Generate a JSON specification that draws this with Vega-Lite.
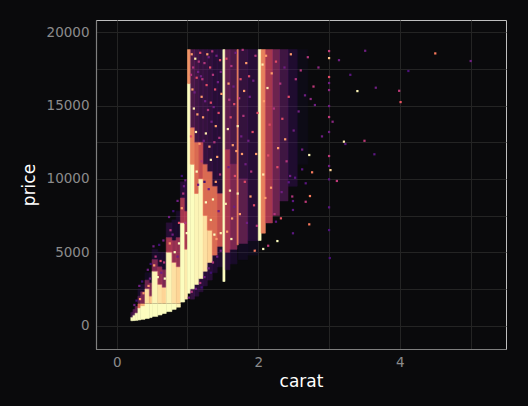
{
  "$schema": "https://vega.github.io/schema/vega-lite/v6.json",
  "width": 410,
  "height": 329,
  "autosize": "none",
  "padding": {"left": 96, "top": 20, "right": 22, "bottom": 57},
  "background": "#0a0a0c",
  "config": {
    "view": {"stroke": "#bfbfbf", "strokeWidth": 1},
    "axis": {
      "grid": true,
      "gridColor": "#242424",
      "gridWidth": 1,
      "ticks": false,
      "domainColor": "#7f7f7f",
      "domainWidth": 1.2,
      "labelColor": "#8c8c8c",
      "labelFont": "DejaVu Sans",
      "labelFontSize": 13.5,
      "titleColor": "#ffffff",
      "titleFont": "DejaVu Sans",
      "titleFontSize": 17,
      "titleFontWeight": "normal"
    }
  },
  "datasets": {
    "cells": [
      {"c0": 0.20, "c1": 0.23, "p0": 326, "p1": 560, "n": 100},
      {"c0": 0.20, "c1": 0.23, "p0": 560, "p1": 900, "n": 2},
      {"c0": 0.23, "c1": 0.26, "p0": 335, "p1": 700, "n": 100},
      {"c0": 0.23, "c1": 0.26, "p0": 700, "p1": 1100, "n": 3},
      {"c0": 0.26, "c1": 0.30, "p0": 350, "p1": 850, "n": 100},
      {"c0": 0.26, "c1": 0.30, "p0": 850, "p1": 1300, "n": 4},
      {"c0": 0.30, "c1": 0.34, "p0": 380, "p1": 1200, "n": 100},
      {"c0": 0.30, "c1": 0.34, "p0": 1200, "p1": 1480, "n": 20},
      {"c0": 0.30, "c1": 0.34, "p0": 1520, "p1": 2000, "n": 4},
      {"c0": 0.30, "c1": 0.34, "p0": 2000, "p1": 2500, "n": 1},
      {"c0": 0.34, "c1": 0.40, "p0": 420, "p1": 1350, "n": 100},
      {"c0": 0.34, "c1": 0.40, "p0": 1350, "p1": 1480, "n": 40},
      {"c0": 0.34, "c1": 0.40, "p0": 1520, "p1": 2300, "n": 6},
      {"c0": 0.34, "c1": 0.40, "p0": 2300, "p1": 2800, "n": 1},
      {"c0": 0.40, "c1": 0.46, "p0": 480, "p1": 1480, "n": 100},
      {"c0": 0.40, "c1": 0.46, "p0": 1520, "p1": 2500, "n": 70},
      {"c0": 0.40, "c1": 0.46, "p0": 2500, "p1": 3100, "n": 5},
      {"c0": 0.40, "c1": 0.46, "p0": 3100, "p1": 3600, "n": 0.8},
      {"c0": 0.46, "c1": 0.50, "p0": 540, "p1": 1480, "n": 100},
      {"c0": 0.46, "c1": 0.50, "p0": 1520, "p1": 2000, "n": 50},
      {"c0": 0.46, "c1": 0.50, "p0": 2000, "p1": 2900, "n": 6},
      {"c0": 0.46, "c1": 0.50, "p0": 2900, "p1": 3600, "n": 1},
      {"c0": 0.50, "c1": 0.58, "p0": 620, "p1": 1480, "n": 100},
      {"c0": 0.50, "c1": 0.58, "p0": 1520, "p1": 3700, "n": 90},
      {"c0": 0.50, "c1": 0.58, "p0": 3700, "p1": 4500, "n": 6},
      {"c0": 0.50, "c1": 0.58, "p0": 4500, "p1": 5200, "n": 1},
      {"c0": 0.58, "c1": 0.64, "p0": 720, "p1": 1480, "n": 100},
      {"c0": 0.58, "c1": 0.64, "p0": 1520, "p1": 2800, "n": 70},
      {"c0": 0.58, "c1": 0.64, "p0": 2800, "p1": 4000, "n": 8},
      {"c0": 0.58, "c1": 0.64, "p0": 4000, "p1": 5000, "n": 1},
      {"c0": 0.64, "c1": 0.70, "p0": 820, "p1": 1480, "n": 100},
      {"c0": 0.64, "c1": 0.70, "p0": 1520, "p1": 2600, "n": 60},
      {"c0": 0.64, "c1": 0.70, "p0": 2600, "p1": 3800, "n": 6},
      {"c0": 0.64, "c1": 0.70, "p0": 3800, "p1": 5000, "n": 1},
      {"c0": 0.70, "c1": 0.78, "p0": 950, "p1": 1480, "n": 100},
      {"c0": 0.70, "c1": 0.78, "p0": 1520, "p1": 5000, "n": 90},
      {"c0": 0.70, "c1": 0.78, "p0": 5000, "p1": 6000, "n": 10},
      {"c0": 0.70, "c1": 0.78, "p0": 6000, "p1": 7000, "n": 1.5},
      {"c0": 0.78, "c1": 0.84, "p0": 1100, "p1": 1480, "n": 100},
      {"c0": 0.78, "c1": 0.84, "p0": 1520, "p1": 4300, "n": 70},
      {"c0": 0.78, "c1": 0.84, "p0": 4300, "p1": 5800, "n": 8},
      {"c0": 0.78, "c1": 0.84, "p0": 5800, "p1": 7200, "n": 1},
      {"c0": 0.84, "c1": 0.90, "p0": 1250, "p1": 1480, "n": 90},
      {"c0": 0.84, "c1": 0.90, "p0": 1520, "p1": 4000, "n": 60},
      {"c0": 0.84, "c1": 0.90, "p0": 4000, "p1": 6000, "n": 8},
      {"c0": 0.84, "c1": 0.90, "p0": 6000, "p1": 7800, "n": 1},
      {"c0": 0.90, "c1": 0.96, "p0": 1600, "p1": 7000, "n": 100},
      {"c0": 0.90, "c1": 0.96, "p0": 7000, "p1": 8700, "n": 10},
      {"c0": 0.90, "c1": 0.96, "p0": 8700, "p1": 9800, "n": 1.5},
      {"c0": 0.96, "c1": 1.00, "p0": 1800, "p1": 5200, "n": 80},
      {"c0": 0.96, "c1": 1.00, "p0": 5200, "p1": 7800, "n": 10},
      {"c0": 0.96, "c1": 1.00, "p0": 7800, "p1": 9800, "n": 1.5},
      {"c0": 1.00, "c1": 1.04, "p0": 2200, "p1": 16500, "n": 100},
      {"c0": 1.00, "c1": 1.04, "p0": 16500, "p1": 18820, "n": 30},
      {"c0": 1.04, "c1": 1.10, "p0": 1800, "p1": 2500, "n": 2},
      {"c0": 1.04, "c1": 1.10, "p0": 2500, "p1": 11000, "n": 100},
      {"c0": 1.04, "c1": 1.10, "p0": 11000, "p1": 13500, "n": 25},
      {"c0": 1.04, "c1": 1.10, "p0": 13500, "p1": 18820, "n": 3},
      {"c0": 1.10, "c1": 1.16, "p0": 2000, "p1": 2800, "n": 1.5},
      {"c0": 1.10, "c1": 1.16, "p0": 2800, "p1": 9000, "n": 90},
      {"c0": 1.10, "c1": 1.16, "p0": 9000, "p1": 12500, "n": 20},
      {"c0": 1.10, "c1": 1.16, "p0": 12500, "p1": 18820, "n": 2.5},
      {"c0": 1.16, "c1": 1.22, "p0": 2300, "p1": 3200, "n": 1.5},
      {"c0": 1.16, "c1": 1.22, "p0": 3200, "p1": 10000, "n": 90},
      {"c0": 1.16, "c1": 1.22, "p0": 10000, "p1": 12500, "n": 14},
      {"c0": 1.16, "c1": 1.22, "p0": 12500, "p1": 18820, "n": 2},
      {"c0": 1.22, "c1": 1.28, "p0": 2700, "p1": 3700, "n": 1.5},
      {"c0": 1.22, "c1": 1.28, "p0": 3700, "p1": 7500, "n": 70},
      {"c0": 1.22, "c1": 1.28, "p0": 7500, "p1": 11000, "n": 20},
      {"c0": 1.22, "c1": 1.28, "p0": 11000, "p1": 18820, "n": 2},
      {"c0": 1.28, "c1": 1.35, "p0": 3100, "p1": 4300, "n": 1.5},
      {"c0": 1.28, "c1": 1.35, "p0": 4300, "p1": 6500, "n": 60},
      {"c0": 1.28, "c1": 1.35, "p0": 6500, "p1": 10500, "n": 20},
      {"c0": 1.28, "c1": 1.35, "p0": 10500, "p1": 18820, "n": 1.8},
      {"c0": 1.35, "c1": 1.42, "p0": 3600, "p1": 4800, "n": 1.2},
      {"c0": 1.35, "c1": 1.42, "p0": 4800, "p1": 9500, "n": 20},
      {"c0": 1.35, "c1": 1.42, "p0": 9500, "p1": 18820, "n": 1.5},
      {"c0": 1.42, "c1": 1.50, "p0": 4000, "p1": 5400, "n": 1.2},
      {"c0": 1.42, "c1": 1.50, "p0": 5400, "p1": 9000, "n": 15},
      {"c0": 1.42, "c1": 1.50, "p0": 9000, "p1": 18820, "n": 1.5},
      {"c0": 1.50, "c1": 1.53, "p0": 3000, "p1": 18820, "n": 100},
      {"c0": 1.53, "c1": 1.60, "p0": 3800, "p1": 5000, "n": 1.5},
      {"c0": 1.53, "c1": 1.60, "p0": 5000, "p1": 12000, "n": 10},
      {"c0": 1.53, "c1": 1.60, "p0": 12000, "p1": 18820, "n": 4},
      {"c0": 1.60, "c1": 1.70, "p0": 4200, "p1": 5200, "n": 1},
      {"c0": 1.60, "c1": 1.70, "p0": 5200, "p1": 11000, "n": 6},
      {"c0": 1.60, "c1": 1.70, "p0": 11000, "p1": 18820, "n": 3},
      {"c0": 1.70, "c1": 1.72, "p0": 5500, "p1": 18820, "n": 25},
      {"c0": 1.72, "c1": 1.85, "p0": 4500, "p1": 5600, "n": 0.8},
      {"c0": 1.72, "c1": 1.85, "p0": 5600, "p1": 10000, "n": 4},
      {"c0": 1.72, "c1": 1.85, "p0": 10000, "p1": 18820, "n": 2},
      {"c0": 1.85, "c1": 2.00, "p0": 4800, "p1": 5800, "n": 0.7},
      {"c0": 1.85, "c1": 2.00, "p0": 5800, "p1": 18820, "n": 1.5},
      {"c0": 2.00, "c1": 2.04, "p0": 5800, "p1": 18820, "n": 100},
      {"c0": 2.04, "c1": 2.10, "p0": 6300, "p1": 18820, "n": 25},
      {"c0": 2.10, "c1": 2.20, "p0": 7000, "p1": 18820, "n": 10},
      {"c0": 2.20, "c1": 2.30, "p0": 7500, "p1": 18820, "n": 5},
      {"c0": 2.30, "c1": 2.42, "p0": 8500, "p1": 18820, "n": 2.5},
      {"c0": 2.42, "c1": 2.55, "p0": 9500, "p1": 18820, "n": 1.2},
      {"c0": 2.55, "c1": 2.70, "p0": 11000, "p1": 18820, "n": 0.6}
    ],
    "dots": [
      {"c": 3.51, "p": 18740, "n": 2},
      {"c": 4.50, "p": 18560, "n": 20},
      {"c": 5.00, "p": 18040, "n": 2},
      {"c": 4.12, "p": 17360, "n": 1.2},
      {"c": 3.66, "p": 16220, "n": 2},
      {"c": 3.40, "p": 15990, "n": 90},
      {"c": 3.99, "p": 16010, "n": 6},
      {"c": 4.01, "p": 15240, "n": 12},
      {"c": 3.50, "p": 12600, "n": 6},
      {"c": 3.21, "p": 12540, "n": 80},
      {"c": 3.23, "p": 12380, "n": 1.5},
      {"c": 3.64, "p": 11680, "n": 1.5},
      {"c": 3.11, "p": 9860, "n": 6},
      {"c": 2.80, "p": 15040, "n": 2},
      {"c": 2.74, "p": 15450, "n": 3},
      {"c": 3.00, "p": 18720, "n": 6},
      {"c": 3.00, "p": 18240, "n": 50},
      {"c": 3.00, "p": 16950, "n": 10},
      {"c": 3.00, "p": 16540, "n": 2},
      {"c": 3.00, "p": 16060, "n": 3},
      {"c": 3.00, "p": 14970, "n": 2},
      {"c": 3.00, "p": 14220, "n": 6},
      {"c": 3.00, "p": 13200, "n": 2},
      {"c": 3.00, "p": 11560, "n": 6},
      {"c": 3.00, "p": 10880, "n": 2},
      {"c": 3.02, "p": 10600, "n": 60},
      {"c": 3.00, "p": 9970, "n": 1.5},
      {"c": 3.00, "p": 8060, "n": 1.5},
      {"c": 3.00, "p": 6510, "n": 1.2},
      {"c": 3.01, "p": 4600, "n": 1.2},
      {"c": 2.72, "p": 11630, "n": 90},
      {"c": 2.76, "p": 10450, "n": 20},
      {"c": 2.62, "p": 10650, "n": 1.5},
      {"c": 2.52, "p": 10080, "n": 1.5},
      {"c": 2.43, "p": 9770, "n": 1.5},
      {"c": 2.67, "p": 9700, "n": 1.5},
      {"c": 2.73, "p": 8830, "n": 20},
      {"c": 2.49, "p": 8490, "n": 1.5},
      {"c": 2.67, "p": 8440, "n": 6},
      {"c": 2.49, "p": 7880, "n": 1.5},
      {"c": 2.32, "p": 7310, "n": 12},
      {"c": 2.25, "p": 7080, "n": 1.5},
      {"c": 2.72, "p": 6900, "n": 20},
      {"c": 2.49, "p": 6290, "n": 1.5},
      {"c": 2.27, "p": 5760, "n": 100},
      {"c": 2.14, "p": 5440, "n": 6},
      {"c": 2.07, "p": 5220, "n": 100},
      {"c": 1.95, "p": 5100, "n": 20},
      {"c": 3.14, "p": 18100, "n": 2},
      {"c": 3.30, "p": 17100, "n": 1.5},
      {"c": 3.05, "p": 13900, "n": 3},
      {"c": 2.90, "p": 12900, "n": 2},
      {"c": 2.85, "p": 17600, "n": 3},
      {"c": 2.78, "p": 16300, "n": 6},
      {"c": 1.06, "p": 18500, "n": 30},
      {"c": 1.08, "p": 17600, "n": 5},
      {"c": 1.11, "p": 18200, "n": 80},
      {"c": 1.13, "p": 16900, "n": 10},
      {"c": 1.07, "p": 16100, "n": 30},
      {"c": 1.15, "p": 17300, "n": 2},
      {"c": 1.18, "p": 18600, "n": 10},
      {"c": 1.20, "p": 15600, "n": 30},
      {"c": 1.09, "p": 14800, "n": 80},
      {"c": 1.24, "p": 17900, "n": 5},
      {"c": 1.27, "p": 16400, "n": 10},
      {"c": 1.22, "p": 14200, "n": 30},
      {"c": 1.30, "p": 18300, "n": 2},
      {"c": 1.33, "p": 15200, "n": 10},
      {"c": 1.36, "p": 17100, "n": 5},
      {"c": 1.40, "p": 13600, "n": 30},
      {"c": 1.43, "p": 16600, "n": 2},
      {"c": 1.46, "p": 18100, "n": 10},
      {"c": 1.38, "p": 12500, "n": 5},
      {"c": 1.12, "p": 13200, "n": 80},
      {"c": 1.17, "p": 12400, "n": 30},
      {"c": 1.05, "p": 12900, "n": 10},
      {"c": 1.26, "p": 13100, "n": 80},
      {"c": 1.31, "p": 12200, "n": 30},
      {"c": 1.44, "p": 14500, "n": 10},
      {"c": 1.48, "p": 15800, "n": 30},
      {"c": 1.35, "p": 18700, "n": 5},
      {"c": 1.19, "p": 17000, "n": 2},
      {"c": 1.05, "p": 17100, "n": 5},
      {"c": 1.10, "p": 15900, "n": 2},
      {"c": 1.14, "p": 14400, "n": 30},
      {"c": 1.21, "p": 16800, "n": 5},
      {"c": 1.25, "p": 15300, "n": 2},
      {"c": 1.28, "p": 18500, "n": 30},
      {"c": 1.32, "p": 17600, "n": 10},
      {"c": 1.34, "p": 13900, "n": 2},
      {"c": 1.39, "p": 16100, "n": 10},
      {"c": 1.41, "p": 18400, "n": 2},
      {"c": 1.45, "p": 12800, "n": 5},
      {"c": 1.47, "p": 17300, "n": 2},
      {"c": 1.16, "p": 18000, "n": 5},
      {"c": 1.23, "p": 12600, "n": 2},
      {"c": 1.29, "p": 14700, "n": 5},
      {"c": 1.37, "p": 14900, "n": 2},
      {"c": 1.42, "p": 11500, "n": 30},
      {"c": 1.46, "p": 10300, "n": 5},
      {"c": 1.33, "p": 11300, "n": 80},
      {"c": 1.40, "p": 9800, "n": 30},
      {"c": 1.13, "p": 10500, "n": 100},
      {"c": 1.20, "p": 11200, "n": 5},
      {"c": 1.26, "p": 8400, "n": 100},
      {"c": 1.30, "p": 9300, "n": 2},
      {"c": 1.33, "p": 7200, "n": 80},
      {"c": 1.38, "p": 6200, "n": 100},
      {"c": 1.44, "p": 7800, "n": 2},
      {"c": 1.47, "p": 6300, "n": 80},
      {"c": 1.24, "p": 9800, "n": 1},
      {"c": 1.15, "p": 9600, "n": 2},
      {"c": 1.36, "p": 8600, "n": 100},
      {"c": 1.41, "p": 5900, "n": 30},
      {"c": 1.55, "p": 18200, "n": 10},
      {"c": 1.58, "p": 16500, "n": 30},
      {"c": 1.62, "p": 17700, "n": 5},
      {"c": 1.66, "p": 15100, "n": 10},
      {"c": 1.57, "p": 13400, "n": 80},
      {"c": 1.64, "p": 12300, "n": 30},
      {"c": 1.68, "p": 18600, "n": 2},
      {"c": 1.75, "p": 16800, "n": 10},
      {"c": 1.79, "p": 14300, "n": 5},
      {"c": 1.83, "p": 17900, "n": 30},
      {"c": 1.88, "p": 15600, "n": 2},
      {"c": 1.92, "p": 13200, "n": 10},
      {"c": 1.96, "p": 18400, "n": 5},
      {"c": 1.77, "p": 11700, "n": 30},
      {"c": 1.81, "p": 9800, "n": 10},
      {"c": 1.86, "p": 12600, "n": 2},
      {"c": 1.90, "p": 10500, "n": 5},
      {"c": 1.94, "p": 8200, "n": 10},
      {"c": 1.74, "p": 7600, "n": 30},
      {"c": 1.60, "p": 9200, "n": 80},
      {"c": 1.63, "p": 7300, "n": 30},
      {"c": 1.67, "p": 10200, "n": 10},
      {"c": 1.56, "p": 6400, "n": 30},
      {"c": 1.98, "p": 6800, "n": 5},
      {"c": 1.84, "p": 7000, "n": 2},
      {"c": 1.71, "p": 13600, "n": 80},
      {"c": 1.71, "p": 9000, "n": 80},
      {"c": 1.54, "p": 8300, "n": 80},
      {"c": 1.58, "p": 10800, "n": 2},
      {"c": 1.61, "p": 14200, "n": 10},
      {"c": 1.65, "p": 16300, "n": 2},
      {"c": 1.69, "p": 11900, "n": 30},
      {"c": 1.73, "p": 15500, "n": 5},
      {"c": 1.76, "p": 12900, "n": 2},
      {"c": 1.80, "p": 16000, "n": 30},
      {"c": 1.82, "p": 11000, "n": 2},
      {"c": 1.87, "p": 17000, "n": 10},
      {"c": 1.89, "p": 8800, "n": 30},
      {"c": 1.93, "p": 16700, "n": 2},
      {"c": 1.97, "p": 11700, "n": 30},
      {"c": 1.99, "p": 14500, "n": 10},
      {"c": 1.78, "p": 18800, "n": 5},
      {"c": 1.62, "p": 5900, "n": 80},
      {"c": 1.66, "p": 8100, "n": 2},
      {"c": 1.59, "p": 15400, "n": 5},
      {"c": 2.06, "p": 17800, "n": 80},
      {"c": 2.08, "p": 15300, "n": 30},
      {"c": 2.11, "p": 18400, "n": 30},
      {"c": 2.13, "p": 16200, "n": 80},
      {"c": 2.16, "p": 13700, "n": 10},
      {"c": 2.19, "p": 17200, "n": 30},
      {"c": 2.22, "p": 14800, "n": 5},
      {"c": 2.25, "p": 18000, "n": 10},
      {"c": 2.28, "p": 12100, "n": 30},
      {"c": 2.31, "p": 16500, "n": 5},
      {"c": 2.34, "p": 14100, "n": 10},
      {"c": 2.37, "p": 17600, "n": 2},
      {"c": 2.40, "p": 11200, "n": 5},
      {"c": 2.43, "p": 15600, "n": 10},
      {"c": 2.46, "p": 18500, "n": 30},
      {"c": 2.50, "p": 13300, "n": 2},
      {"c": 2.53, "p": 16800, "n": 5},
      {"c": 2.57, "p": 14600, "n": 2},
      {"c": 2.60, "p": 17400, "n": 5},
      {"c": 2.07, "p": 10300, "n": 80},
      {"c": 2.10, "p": 8700, "n": 30},
      {"c": 2.14, "p": 11600, "n": 10},
      {"c": 2.18, "p": 9400, "n": 30},
      {"c": 2.23, "p": 7600, "n": 5},
      {"c": 2.27, "p": 10800, "n": 10},
      {"c": 2.33, "p": 9100, "n": 2},
      {"c": 2.38, "p": 12700, "n": 30},
      {"c": 2.45, "p": 10200, "n": 2},
      {"c": 2.48, "p": 8800, "n": 5},
      {"c": 2.62, "p": 12000, "n": 2},
      {"c": 2.66, "p": 15700, "n": 2},
      {"c": 2.70, "p": 18300, "n": 5},
      {"c": 1.02, "p": 1900, "n": 2},
      {"c": 1.06, "p": 2300, "n": 5},
      {"c": 1.12, "p": 2500, "n": 2},
      {"c": 1.18, "p": 2900, "n": 5},
      {"c": 1.24, "p": 3300, "n": 2},
      {"c": 1.30, "p": 3900, "n": 2},
      {"c": 1.36, "p": 4300, "n": 5},
      {"c": 1.42, "p": 4700, "n": 2},
      {"c": 1.47, "p": 5100, "n": 2},
      {"c": 1.20, "p": 2600, "n": 1},
      {"c": 1.33, "p": 3600, "n": 1},
      {"c": 0.32, "p": 2700, "n": 2},
      {"c": 0.36, "p": 3000, "n": 1},
      {"c": 0.44, "p": 3800, "n": 2},
      {"c": 0.48, "p": 4200, "n": 1},
      {"c": 0.52, "p": 5400, "n": 2},
      {"c": 0.60, "p": 5500, "n": 1},
      {"c": 0.66, "p": 5800, "n": 2},
      {"c": 0.74, "p": 7400, "n": 2},
      {"c": 0.80, "p": 7800, "n": 1},
      {"c": 0.86, "p": 8500, "n": 2},
      {"c": 0.92, "p": 10200, "n": 1},
      {"c": 0.97, "p": 9900, "n": 2},
      {"c": 0.55, "p": 4700, "n": 5},
      {"c": 0.62, "p": 4400, "n": 10},
      {"c": 0.76, "p": 6500, "n": 5},
      {"c": 0.88, "p": 7000, "n": 10},
      {"c": 0.94, "p": 9000, "n": 5},
      {"c": 0.58, "p": 3300, "n": 100},
      {"c": 0.63, "p": 3600, "n": 2},
      {"c": 0.68, "p": 3200, "n": 100},
      {"c": 0.67, "p": 4300, "n": 5},
      {"c": 0.82, "p": 5000, "n": 100},
      {"c": 0.86, "p": 4700, "n": 2},
      {"c": 0.88, "p": 5600, "n": 100},
      {"c": 0.99, "p": 6300, "n": 100},
      {"c": 0.97, "p": 7000, "n": 5},
      {"c": 0.92, "p": 8000, "n": 30},
      {"c": 0.95, "p": 9500, "n": 2},
      {"c": 0.75, "p": 5600, "n": 30},
      {"c": 0.79, "p": 6200, "n": 2},
      {"c": 0.45, "p": 2700, "n": 30},
      {"c": 0.38, "p": 2200, "n": 30},
      {"c": 0.47, "p": 3200, "n": 2},
      {"c": 0.33, "p": 1800, "n": 30},
      {"c": 0.53, "p": 4100, "n": 30},
      {"c": 0.25, "p": 1400, "n": 2},
      {"c": 0.28, "p": 1700, "n": 1}
    ]
  },
  "layer": [
    {
      "data": {"name": "cells"},
      "mark": {"type": "rect", "strokeWidth": 0.6},
      "encoding": {
        "x": {
          "field": "c0",
          "type": "quantitative",
          "scale": {"domain": [-0.292, 5.499], "nice": false, "zero": false},
          "axis": {
            "title": "carat",
            "values": [0, 1, 2, 3, 4, 5],
            "format": "d",
            "labelExpr": "datum.value % 2 == 0 ? datum.label : ''",
            "labelPadding": 6,
            "titlePadding": 5
          }
        },
        "x2": {"field": "c1"},
        "y": {
          "field": "p0",
          "type": "quantitative",
          "scale": {"domain": [-1603, 20839], "nice": false, "zero": false},
          "axis": {
            "title": "price",
            "values": [0, 2500, 5000, 7500, 10000, 12500, 15000, 17500, 20000],
            "format": "d",
            "labelExpr": "datum.value % 5000 == 0 ? datum.label : ''",
            "labelPadding": 7,
            "titlePadding": 8
          }
        },
        "y2": {"field": "p1"},
        "color": {
          "field": "n",
          "type": "quantitative",
          "scale": {"type": "log", "domain": [0.3, 100], "scheme": "magma", "clamp": true},
          "legend": null
        },
        "stroke": {
          "field": "n",
          "type": "quantitative",
          "scale": {"type": "log", "domain": [0.3, 100], "scheme": "magma", "clamp": true},
          "legend": null
        },
        "opacity": {
          "field": "n",
          "type": "quantitative",
          "scale": {"type": "log", "domain": [0.5, 40], "range": [0.15, 1], "clamp": true},
          "legend": null
        }
      }
    },
    {
      "data": {"name": "dots"},
      "mark": {"type": "square", "size": 5, "opacity": 1},
      "encoding": {
        "x": {"field": "c", "type": "quantitative", "scale": {"domain": [-0.292, 5.499], "nice": false, "zero": false}},
        "y": {"field": "p", "type": "quantitative", "scale": {"domain": [-1603, 20839], "nice": false, "zero": false}},
        "color": {
          "field": "n",
          "type": "quantitative",
          "scale": {"type": "log", "domain": [0.3, 100], "scheme": "magma", "clamp": true},
          "legend": null
        }
      }
    }
  ]
}
